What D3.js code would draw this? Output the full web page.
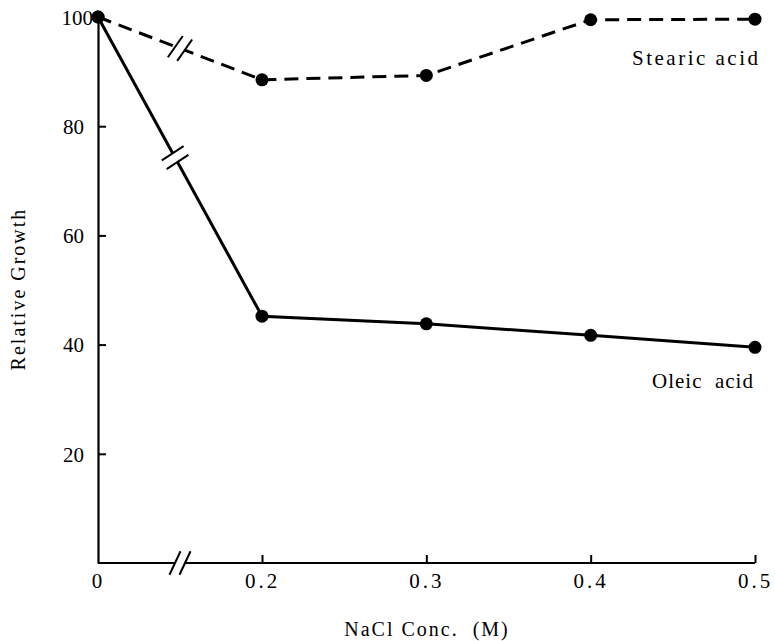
<!DOCTYPE html>
<html>
<head>
<meta charset="utf-8">
<script src="https://cdn.jsdelivr.net/npm/d3@7"></script>
<style>
	body { margin: 0; background: #fff; }
	text { font-family: "Liberation Serif", "DejaVu Serif", serif; fill: #000; }
</style>
</head>
<body>
<script>
var nacl = [0, 0.2, 0.3, 0.4, 0.5];
var stearic = [100, 88.5, 89.3, 99.5, 99.6];
var oleic = [100, 45.2, 43.8, 41.7, 39.5];
var xTickValues = [0, 0.2, 0.3, 0.4, 0.5];
var xTickLabels = ["0", "0.2", "0.3", "0.4", "0.5"];
var yTickValues = [20, 40, 60, 80, 100];

var svg = d3.select("body").append("svg")
	.attr("width", 775)
	.attr("height", 641);

// broken x axis: 0 sits on its own, 0.2..0.5 linear
var x = d3.scaleLinear().domain([0, 0.2, 0.5]).range([98, 262, 755]);
var y = d3.scaleLinear().domain([0, 100]).range([563, 17]);
var y0 = y(0);

// y axis
var yAxis = d3.axisLeft(y)
	.tickValues(yTickValues)
	.tickSizeInner(-8)
	.tickSizeOuter(0)
	.tickPadding(14);
var gy = svg.append("g").attr("transform", "translate(" + x(0) + ",0)").call(yAxis);
gy.select(".domain").attr("stroke-width", 2.2);
gy.selectAll(".tick line").attr("stroke-width", 2);
gy.selectAll(".tick text").style("font-size", "21px").attr("dy", "0.35em");
gy.selectAll(".tick").filter(function(d){ return d === 100; }).select("line").remove();
gy.selectAll(".tick").filter(function(d){ return d === 100; }).select("text").attr("x", -5);

// x axis
var xAxis = d3.axisBottom(x)
	.tickValues(xTickValues)
	.tickSizeInner(-8)
	.tickSizeOuter(0)
	.tickPadding(10)
	.tickFormat(function(d, i){ return xTickLabels[i]; });
var gx = svg.append("g").attr("transform", "translate(0," + y0 + ")").call(xAxis);
gx.select(".domain").remove();
gx.selectAll(".tick line").attr("stroke-width", 2);
gx.selectAll(".tick text").style("font-size", "21px").style("letter-spacing", "3px").attr("dy", "0.71em");
gx.selectAll(".tick").filter(function(d){ return d === 0; }).select("line").remove();

var xb = (x(0) + x(0.2)) / 2;
svg.append("line").attr("x1", x(0)).attr("x2", xb - 5).attr("y1", y0).attr("y2", y0)
	.attr("stroke", "#000").attr("stroke-width", 2);
svg.append("line").attr("x1", xb + 5).attr("x2", x(0.5)).attr("y1", y0).attr("y2", y0)
	.attr("stroke", "#000").attr("stroke-width", 2);

function slashes(cx, cy, dirAng, slashAng, len) {
	// gap along the line, then two parallel slashes
	var dx = Math.cos(dirAng), dy = Math.sin(dirAng);
	svg.append("line")
		.attr("x1", cx - dx * 5).attr("y1", cy - dy * 5)
		.attr("x2", cx + dx * 5).attr("y2", cy + dy * 5)
		.attr("stroke", "#fff").attr("stroke-width", 7);
	var sx = Math.cos(slashAng), sy = -Math.sin(slashAng);
	[-5, 5].forEach(function(o){
		var px = cx + dx * o, py = cy + dy * o;
		svg.append("line")
			.attr("x1", px - sx * len / 2).attr("y1", py - sy * len / 2)
			.attr("x2", px + sx * len / 2).attr("y2", py + sy * len / 2)
			.attr("stroke", "#000").attr("stroke-width", 2);
	});
}
slashes(xb, y0, 0, 65 * Math.PI / 180, 26);

var line = d3.line()
	.x(function(d){ return x(d[0]); })
	.y(function(d){ return y(d[1]); });

function series(vals, dash) {
	var pts = nacl.map(function(v, i){ return [v, vals[i]]; });
	svg.append("path")
		.datum(pts)
		.attr("d", line)
		.attr("fill", "none")
		.attr("stroke", "#000")
		.attr("stroke-width", 3)
		.attr("stroke-dasharray", dash);
	svg.selectAll(null)
		.data(pts)
		.enter()
		.append("circle")
		.attr("cx", function(d){ return x(d[0]); })
		.attr("cy", function(d){ return y(d[1]); })
		.attr("r", 6.5)
		.attr("fill", "#000");
	return pts;
}

var sp = series(stearic, "14,8");
var op = series(oleic, null);

function breakOn(pts, t, slashAng) {
	var ax = x(pts[0][0]), ay = y(pts[0][1]);
	var bx = x(pts[1][0]), by = y(pts[1][1]);
	var cx = ax + (bx - ax) * t, cy = ay + (by - ay) * t;
	slashes(cx, cy, Math.atan2(by - ay, bx - ax), slashAng, 26);
}
breakOn(sp, 0.5, 55 * Math.PI / 180);
breakOn(op, 0.47, 33 * Math.PI / 180);

svg.append("text").attr("x", 632).attr("y", 65).style("font-size", "21px")
	.style("letter-spacing", "2.5px").text("Stearic acid");
svg.append("text").attr("x", 652).attr("y", 388).style("font-size", "21px")
	.style("letter-spacing", "1px").style("white-space", "pre").text("Oleic  acid");

svg.append("text")
	.attr("transform", "translate(25,289) rotate(-90)")
	.attr("text-anchor", "middle")
	.style("font-size", "20px")
	.style("letter-spacing", "2px")
	.text("Relative Growth");

svg.append("text")
	.attr("x", 427).attr("y", 636)
	.attr("text-anchor", "middle")
	.style("font-size", "20px")
	.style("letter-spacing", "2px")
	.style("white-space", "pre")
	.text("NaCl Conc.  (M)");
</script>
</body>
</html>
